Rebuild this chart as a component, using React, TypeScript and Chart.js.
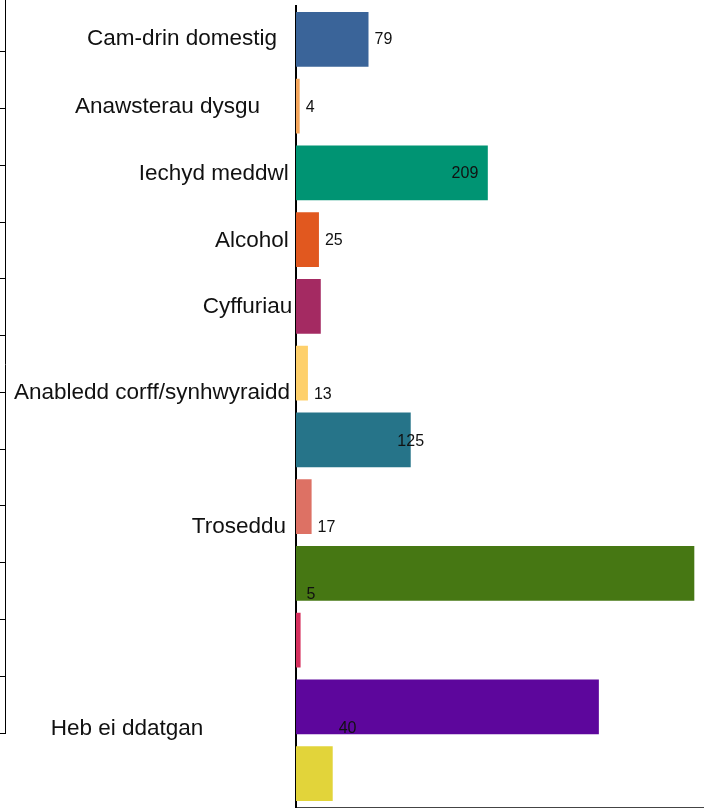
import React, { useEffect, useRef } from 'react';
import { Chart, registerables } from 'chart.js';

Chart.register(...registerables);

// ---- data ----
const CATEGORIES = [
  'Cam-drin domestig',
  'Anawsterau dysgu',
  'Iechyd meddwl',
  'Alcohol',
  'Cyffuriau',
  'Anabledd corff/synhwyraidd',
  '',
  'Troseddu',
  '',
  '',
  'Heb ei ddatgan',
  '',
];
const VALUES = [79, 4, 209, 25, 27, 13, 125, 17, 434, 5, 330, 40];
const COLORS = [
  '#3a6499',
  '#f5a65b',
  '#009473',
  '#e1581f',
  '#a42a62',
  '#fed06b',
  '#267489',
  '#dd7164',
  '#467713',
  '#d6305e',
  '#5d069c',
  '#e2d43a',
];
const X_MAX = 450;
const SIDE_AXIS_MAX = 13;

// ---- label placement (style only) ----
const VALUE_LABEL_MODE = ['out', 'out', 'in', 'out', 'none', 'out', 'center', 'out', 'none', 'out', 'none', 'out'];
const VALUE_LABEL_DY = [0.6, 1.4, 0.9, 0.6, 0, 21.4, 1.4, 21.2, 0, -46, 0, -45];
const CAT_LABEL_DX = [-13, -30, -1.3, -1.3, 2.3, 0, 0, -4, 0, 0, -86.7, 0];
const CAT_LABEL_DY = [-0.4, 0.9, 1.1, 0.7, 0.6, 19.7, 0, 20.4, 0, 0, 22.4, 0];

const FONT = '"Liberation Sans", Arial, Helvetica, sans-serif';

const categoryLabelPlugin = {
  id: 'categoryLabels',
  afterDraw(chart: any) {
    const { ctx, chartArea, scales } = chart;
    const y = scales.y;
    ctx.save();
    ctx.font = `22.5px ${FONT}`;
    ctx.fillStyle = '#111';
    ctx.textAlign = 'right';
    ctx.textBaseline = 'middle';
    CATEGORIES.forEach((c, i) => {
      if (!c) return;
      const py = y.getPixelForValue(i) + CAT_LABEL_DY[i];
      const px = chartArea.left - 6 + CAT_LABEL_DX[i];
      ctx.fillText(c, px, py);
    });
    ctx.restore();
  },
};

const valueLabelPlugin = {
  id: 'valueLabels',
  afterDatasetsDraw(chart: any) {
    const { ctx } = chart;
    const meta = chart.getDatasetMeta(0);
    ctx.save();
    ctx.font = `16px ${FONT}`;
    ctx.fillStyle = '#111';
    ctx.textBaseline = 'middle';
    meta.data.forEach((bar: any, i: number) => {
      const mode = VALUE_LABEL_MODE[i];
      if (mode === 'none') return;
      const { x, y } = bar.getProps(['x', 'y'], true);
      let tx = x;
      if (mode === 'out') {
        ctx.textAlign = 'left';
        tx = x + 6;
      } else if (mode === 'in') {
        ctx.textAlign = 'right';
        tx = x - 9.5;
      } else {
        ctx.textAlign = 'center';
      }
      ctx.fillText(String(VALUES[i]), tx, y + VALUE_LABEL_DY[i]);
    });
    ctx.restore();
  },
};

export default function App() {
  const mainRef = useRef<HTMLCanvasElement | null>(null);
  const sideRef = useRef<HTMLCanvasElement | null>(null);

  useEffect(() => {
    if (!mainRef.current || !sideRef.current) return;

    const main = new Chart(mainRef.current, {
      type: 'bar',
      data: {
        labels: CATEGORIES,
        datasets: [
          {
            data: VALUES,
            backgroundColor: COLORS,
            borderWidth: 0,
            barPercentage: 0.82,
            categoryPercentage: 1,
          },
        ],
      },
      options: {
        indexAxis: 'y',
        responsive: false,
        animation: false,
        devicePixelRatio: 1,
        layout: { padding: { left: 296, top: 6, right: 0, bottom: 1 } },
        plugins: {
          legend: { display: false },
          tooltip: { enabled: false },
        },
        scales: {
          x: {
            type: 'linear',
            min: 0,
            max: X_MAX,
            ticks: { display: false },
            grid: { display: false, drawTicks: false },
            border: { display: true, color: '#444', width: 1 },
          },
          y: {
            type: 'category',
            ticks: { display: false },
            grid: { display: false, drawTicks: false },
            border: { display: true, color: '#000', width: 2 },
          },
        },
      },
      plugins: [categoryLabelPlugin, valueLabelPlugin],
    } as any);

    const side = new Chart(sideRef.current, {
      type: 'bar',
      data: { labels: [], datasets: [] },
      options: {
        responsive: false,
        animation: false,
        devicePixelRatio: 1,
        layout: { padding: { left: 0, top: 0, right: 0, bottom: 2 } },
        plugins: {
          legend: { display: false },
          tooltip: { enabled: false },
        },
        scales: {
          x: { display: false },
          y: {
            type: 'linear',
            min: 0,
            max: SIDE_AXIS_MAX,
            ticks: { display: false, stepSize: 1 },
            grid: {
              display: true,
              drawOnChartArea: false,
              drawTicks: true,
              tickLength: 5,
              color: '#000',
              lineWidth: 1,
            },
            border: { display: true, color: '#000', width: 1 },
          },
        },
      },
    } as any);

    return () => {
      main.destroy();
      side.destroy();
    };
  }, []);

  return (
    <div
      style={{
        position: 'fixed',
        left: 0,
        top: 0,
        width: 704,
        height: 808,
        overflow: 'hidden',
        background: '#fff',
      }}
    >
      <canvas
        ref={sideRef}
        width={12}
        height={740}
        style={{ position: 'absolute', left: 0, top: -5, width: 12, height: 740 }}
      />
      <canvas
        ref={mainRef}
        width={709}
        height={808}
        style={{ position: 'absolute', left: 0, top: 0, width: 709, height: 808 }}
      />
    </div>
  );
}
